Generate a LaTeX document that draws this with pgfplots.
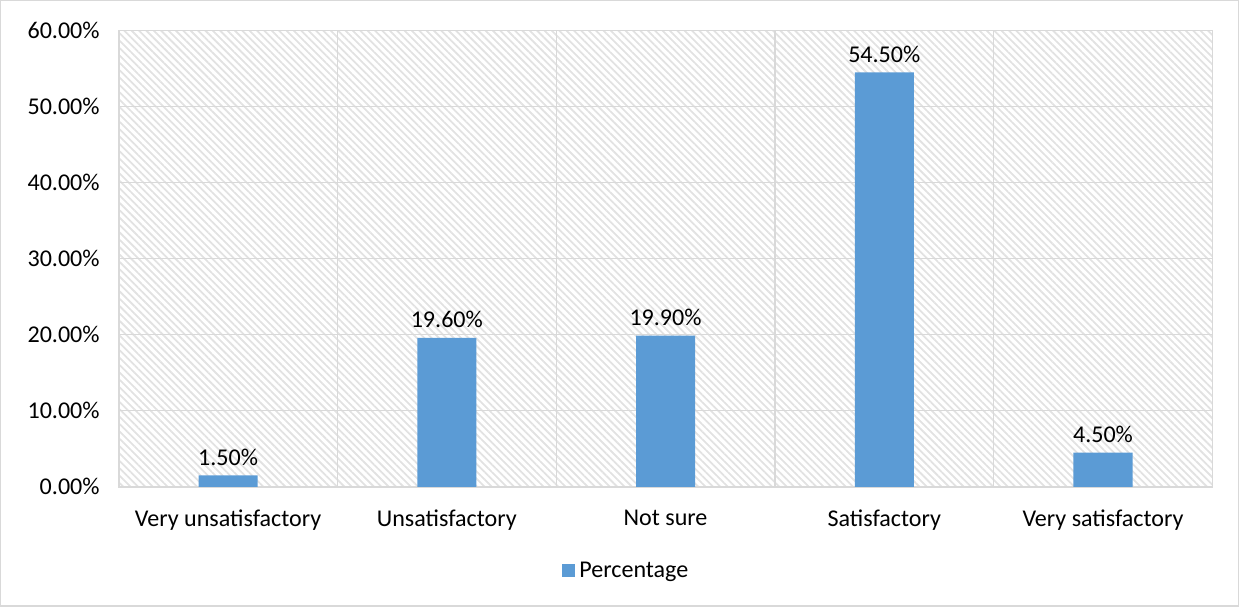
\documentclass[border=0pt]{standalone}
\usepackage{pgfplots}
\pgfplotsset{compat=1.18}
\usepackage{fontspec}
\setmainfont{Carlito}
\usetikzlibrary{patterns.meta}
\definecolor{barblue}{HTML}{5B9BD5}
\definecolor{gridgray}{HTML}{D9D9D9}
\begin{document}
\begin{tikzpicture}
\begin{axis}[
  width=545.5pt, height=227.5pt,
  scale only axis,
  ymin=0, ymax=60,
  xmin=-0.5, xmax=4.5,
  ytick={0,10,...,60},
  xtick={0,1,2,3,4},
  xticklabels={Very unsatisfactory, Unsatisfactory, Not sure, Satisfactory, Very satisfactory},
  minor xtick={-0.5,0.5,1.5,2.5,3.5,4.5},
  xminorgrids=true, ymajorgrids=true,
  grid style={gridgray, line width=0.6pt},
  minor grid style={gridgray, line width=0.6pt},
  axis line style={gridgray, line width=0.8pt},
  major tick length=0pt, minor tick length=0pt,
  tick style={draw=none},
  /pgf/number format/assume math mode=true,
  yticklabel={\pgfmathprintnumber[fixed,fixed zerofill,precision=2]{\tick}\%},
  ticklabel style={font=\fontsize{12}{14}\selectfont, text=black},
  xticklabel style={yshift=-8pt},
  yticklabel style={xshift=-6pt},
  axis background/.style={pattern={Lines[angle=-45, distance=2.6pt, line width=0.9pt]}, pattern color=gridgray!75},
  ybar, bar width=0.27,
  nodes near coords={\pgfmathprintnumber[fixed,fixed zerofill,precision=2]{\pgfplotspointmeta}\%},
  nodes near coords style={font=\fontsize{12}{14}\selectfont, text=black, yshift=1.5pt},
  legend style={at={(rel axis cs:0.465,-0.185)}, anchor=center, draw=none, fill=none, font=\fontsize{12}{14}\selectfont},
  legend image code/.code={\fill[barblue] (0cm,-0.11cm) rectangle (0.23cm,0.12cm);},
  clip=false,
]
\addplot[fill=barblue, draw=none] coordinates {(0,1.5) (1,19.6) (2,19.9) (3,54.5) (4,4.5)};
\legend{Percentage}
\draw[gridgray, line width=0.6pt] (rel axis cs:-0.108,-0.2615) rectangle (rel axis cs:1.0238,1.066);
\end{axis}
\end{tikzpicture}
\end{document}
